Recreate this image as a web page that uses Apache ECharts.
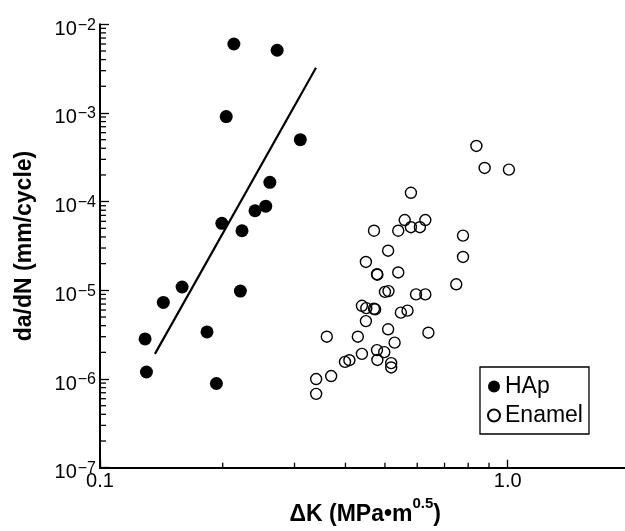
<!DOCTYPE html>
<html><head><meta charset="utf-8">
<script src="https://cdn.jsdelivr.net/npm/echarts@6/dist/echarts.min.js"></script>
<style>html,body{margin:0;padding:0;background:#fff}#c{width:625px;height:531px}</style>
</head><body><div id="c"></div>
<script>
// HAp data: ΔK (MPa·m^0.5) and da/dN (mm/cycle)
const hapK = [0.213, 0.272, 0.204, 0.310, 0.261, 0.255, 0.240, 0.199, 0.223, 0.159, 0.143, 0.221, 0.129, 0.183, 0.130, 0.193];
const hapRate = [6.0e-3, 5.1e-3, 9.1e-4, 5.0e-4, 1.65e-4, 8.9e-5, 7.9e-5, 5.7e-5, 4.7e-5, 1.09e-5, 7.3e-6, 9.8e-6, 2.83e-6, 3.4e-6, 1.2e-6, 8.9e-7];
// Enamel data
const enamelK = [0.838, 0.878, 1.007, 0.579, 0.559, 0.628, 0.579, 0.609, 0.470, 0.539, 0.777, 0.509, 0.777, 0.449, 0.478, 0.479, 0.539, 0.748, 0.500, 0.510, 0.596, 0.628, 0.439, 0.450, 0.470, 0.473, 0.547, 0.568, 0.449, 0.509, 0.639, 0.360, 0.429, 0.528, 0.439, 0.478, 0.498, 0.399, 0.409, 0.479, 0.518, 0.518, 0.369, 0.339, 0.339];
const enamelRate = [4.25e-4, 2.40e-4, 2.30e-4, 1.26e-4, 6.2e-5, 6.2e-5, 5.15e-5, 5.15e-5, 4.7e-5, 4.7e-5, 4.14e-5, 2.8e-5, 2.38e-5, 2.09e-5, 1.52e-5, 1.50e-5, 1.59e-5, 1.17e-5, 9.6e-6, 9.8e-6, 9.0e-6, 9.0e-6, 6.7e-6, 6.3e-6, 6.2e-6, 6.1e-6, 5.6e-6, 5.9e-6, 4.5e-6, 3.64e-6, 3.33e-6, 3.0e-6, 3.0e-6, 2.57e-6, 1.92e-6, 2.12e-6, 2.01e-6, 1.56e-6, 1.63e-6, 1.64e-6, 1.51e-6, 1.35e-6, 1.08e-6, 1.0e-6, 6.8e-7];
// HAp fit line end points
const fitK = [0.1364, 0.3387];
const fitRate = [1.92e-6, 3.24e-3];
// axes
const xMin = 0.1, xMax = 2.0;
const yMin = 1e-7, yMax = 1e-2;
const xMinorTicks = [0.2, 0.3, 0.4, 0.5, 0.6, 0.7, 0.8, 0.9];
const yMinorMult = [2, 3, 4, 5, 6, 7, 8, 9];
const yDecades = [-7, -6, -5, -4, -3];
const xAxisTitle = ['ΔK (MPa•m', '0.5', ')'];
const yAxisTitle = 'da/dN (mm/cycle)';
const legendNames = ['HAp', 'Enamel'];

const FONT = "'Liberation Sans', Arial, Helvetica, sans-serif";
const zip = (a, b) => a.map((v, i) => [v, b[i]]);
const yMinorTicks = [];
yDecades.forEach(d => yMinorMult.forEach(m => yMinorTicks.push(m * Math.pow(10, d))));

const chart = echarts.init(document.getElementById('c'), null, {renderer: 'canvas'});
chart.setOption({
  backgroundColor: '#fff',
  animation: false,
  textStyle: {fontFamily: FONT},
  grid: {left: 100, top: 24.3, width: 530.4, height: 443.4, containLabel: false, outerBoundsMode: 'none'},
  legend: {
    data: legendNames,
    orient: 'vertical',
    left: 480, top: 367,
    padding: [8, 6, 7, 7],
    itemGap: 6,
    itemWidth: 12, itemHeight: 12,
    backgroundColor: '#fff',
    borderColor: '#000', borderWidth: 1.3,
    textStyle: {fontSize: 23, color: '#000', fontFamily: FONT, lineHeight: 22}
  },
  xAxis: {
    type: 'log', logBase: 10, min: xMin, max: xMax,
    axisLine: {lineStyle: {color: '#000', width: 2}},
    axisTick: {inside: true, length: 8, lineStyle: {color: '#000', width: 1.3}},
    splitLine: {show: false},
    minorTick: {show: false},
    axisLabel: {color: '#000', fontSize: 20, fontFamily: FONT, margin: 4, showMaxLabel: false,
      formatter: v => Number(v).toFixed(1)},
    name: '{a|' + xAxisTitle[0] + '}{s|' + xAxisTitle[1] + '}{a|' + xAxisTitle[2] + '}',
    nameLocation: 'middle', nameGap: 29,
    nameTextStyle: {
      color: '#000', fontFamily: FONT, fontWeight: 'bold',
      rich: {
        a: {fontSize: 23, fontWeight: 'bold', fontFamily: FONT, color: '#000', lineHeight: 24, padding: [6, 0, 0, 0], verticalAlign: 'top'},
        s: {fontSize: 15, fontWeight: 'bold', fontFamily: FONT, color: '#000', lineHeight: 15, verticalAlign: 'top'}
      }
    }
  },
  yAxis: {
    type: 'log', logBase: 10, min: yMin, max: yMax,
    axisLine: {lineStyle: {color: '#000', width: 2}},
    axisTick: {inside: true, length: 9, lineStyle: {color: '#000', width: 1.3}},
    splitLine: {show: false},
    axisLabel: {
      color: '#000', fontFamily: FONT, margin: 4,
      formatter: v => '{b|10}{e|' + String(Math.round(Math.log10(v))).replace('-', '\u2212') + '}',
      rich: {
        b: {fontSize: 20, fontFamily: FONT, color: '#000', lineHeight: 20, padding: [5, 0, 0, 0], verticalAlign: 'top'},
        e: {fontSize: 16, fontFamily: FONT, color: '#000', lineHeight: 16, padding: [3, 0, 0, 1], verticalAlign: 'top'}
      }
    },
    name: yAxisTitle,
    nameLocation: 'middle', nameGap: 64, nameRotate: 90,
    nameTextStyle: {color: '#000', fontFamily: FONT, fontWeight: 'bold', fontSize: 23}
  },
  series: [
    {
      name: 'xminor', type: 'custom', silent: true, clip: false,
      data: xMinorTicks.map(v => [v, yMin]),
      encode: {x: 0, y: 1},
      renderItem: (params, api) => {
        const p = api.coord([api.value(0), api.value(1)]);
        return {type: 'line', shape: {x1: p[0], y1: p[1], x2: p[0], y2: p[1] - 5}, style: {stroke: '#000', lineWidth: 1.3}};
      }
    },
    {
      name: 'yminor', type: 'custom', silent: true, clip: false,
      data: yMinorTicks.map(v => [xMin, v]),
      encode: {x: 0, y: 1},
      renderItem: (params, api) => {
        const p = api.coord([api.value(0), api.value(1)]);
        return {type: 'line', shape: {x1: p[0], y1: p[1], x2: p[0] + 6, y2: p[1]}, style: {stroke: '#000', lineWidth: 1.3}};
      }
    },
    {
      name: 'fit', type: 'line', data: zip(fitK, fitRate),
      symbol: 'none', lineStyle: {color: '#000', width: 2.2}, z: 2
    },
    {
      name: 'HAp', type: 'scatter', data: zip(hapK, hapRate),
      symbol: 'circle', symbolSize: 13,
      itemStyle: {color: '#000', opacity: 1}, z: 3
    },
    {
      name: 'Enamel', type: 'scatter', data: zip(enamelK, enamelRate),
      symbol: 'circle', symbolSize: 11,
      itemStyle: {color: 'rgba(255,255,255,0)', borderColor: '#000', borderWidth: 1.4, opacity: 1}, z: 3
    }
  ]
});
</script>
</body></html>
